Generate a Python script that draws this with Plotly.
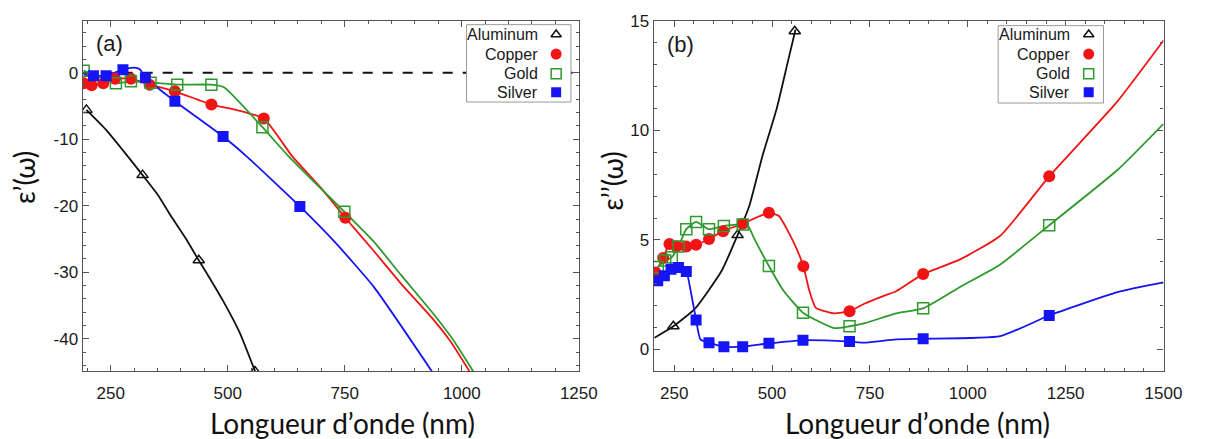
import plotly.graph_objects as go

# ---------------- Panel (a): real part  eps'(w) ----------------
al_re_wl = [198, 240, 282, 318, 350, 380, 410, 438, 465, 490, 525, 560]
al_re = [-5.6, -8.6, -12.2, -15.4, -18.3, -21.7, -24.9, -28.2, -31.3, -34.3, -39.0, -45.2]
al_re_mk_wl = [198, 318, 438, 558]
al_re_mk = [-5.6, -15.4, -28.2, -44.9]

cu_re_wl = [192, 209, 234, 259, 293, 333, 387, 465, 518, 577, 637, 700, 751, 812, 870, 938, 976, 1020]
cu_re = [-1.6, -1.9, -1.6, -0.9, -0.9, -1.8, -2.8, -4.8, -5.6, -6.9, -12.5, -17.4, -21.8, -26.8, -31.7, -37.0, -40.4, -45.3]
cu_re_mk_wl = [192, 209, 234, 259, 293, 333, 387, 465, 577, 751]
cu_re_mk = [-1.6, -1.9, -1.6, -0.9, -0.9, -1.8, -2.8, -4.8, -6.9, -21.8]

au_re_wl = [192, 261, 293, 335, 392, 465, 492, 574, 629, 749, 812, 870, 940, 980, 1028]
au_re = [0.3, -1.6, -1.3, -1.5, -1.8, -1.8, -2.2, -8.2, -12.5, -20.9, -25.4, -30.4, -36.3, -40.0, -45.3]
au_re_mk_wl = [192, 261, 293, 335, 392, 465, 574, 749]
au_re_mk = [0.3, -1.6, -1.3, -1.5, -1.8, -1.8, -8.2, -20.9]

ag_re_wl = [192, 213, 240, 276, 300, 312, 324, 387, 490, 539, 654, 728, 812, 940]
ag_re = [-0.3, -0.45, -0.45, 0.45, 0.75, 0.5, -0.75, -4.3, -9.6, -12.5, -20.1, -25.4, -32.2, -45.3]
ag_re_mk_wl = [213, 240, 276, 324, 387, 490, 654]
ag_re_mk = [-0.45, -0.45, 0.45, -0.75, -4.3, -9.6, -20.1]

# ---------------- Panel (b): imaginary part  eps''(w) ----------------
al_im_wl = [200, 248, 304, 371, 412, 442, 475, 512, 540, 560]
al_im = [0.54, 1.06, 1.88, 3.58, 5.22, 6.56, 8.8, 11.0, 13.1, 14.6]
al_im_mk_wl = [248, 412, 558]
al_im_mk = [1.06, 5.22, 14.52]

cu_im_wl = [202, 222, 238, 256, 281, 306, 339, 375, 425, 492, 517, 555, 580, 595, 612, 657, 698,
            737, 787, 817, 886, 979, 1083, 1208, 1379, 1500]
cu_im = [3.51, 4.18, 4.81, 4.70, 4.70, 4.78, 5.04, 5.40, 5.74, 6.24, 6.1, 4.9, 3.8, 2.7, 1.9, 1.65, 1.75,
         2.1, 2.46, 2.66, 3.44, 4.1, 5.19, 7.9, 11.25, 14.1]
cu_im_mk_wl = [202, 222, 238, 256, 281, 306, 339, 375, 425, 492, 580, 698, 886, 1208]
cu_im_mk = [3.51, 4.18, 4.81, 4.70, 4.70, 4.78, 5.04, 5.40, 5.74, 6.24, 3.8, 1.75, 3.44, 7.9]

au_im_wl = [208, 227, 244, 261, 281, 306, 339, 377, 425, 440, 454, 492, 529, 579, 658, 698,
            737, 817, 886, 979, 1083, 1208, 1383, 1500]
au_im = [3.76, 4.06, 4.21, 4.70, 5.49, 5.82, 5.49, 5.64, 5.70, 5.6, 5.08, 3.81, 2.69, 1.68, 0.98, 1.06,
         1.2, 1.65, 1.88, 2.84, 3.88, 5.67, 8.2, 10.3]
au_im_mk_wl = [208, 227, 244, 261, 281, 306, 339, 377, 425, 492, 579, 698, 886, 1208]
au_im_mk = [3.76, 4.06, 4.21, 4.70, 5.49, 5.82, 5.49, 5.64, 5.70, 3.81, 1.68, 1.06, 1.88, 5.67]

ag_im_wl = [200, 208, 225, 242, 261, 281, 292, 306, 317, 339, 377, 425, 492, 579, 698,
            737, 817, 886, 1083, 1208, 1383, 1500]
ag_im = [3.1, 3.14, 3.36, 3.66, 3.74, 3.56, 2.69, 1.35, 0.46, 0.31, 0.13, 0.13, 0.28, 0.42, 0.36,
         0.31, 0.46, 0.49, 0.61, 1.55, 2.62, 3.06]
ag_im_mk_wl = [208, 225, 242, 261, 281, 306, 339, 377, 425, 492, 579, 698, 886, 1208]
ag_im_mk = [3.14, 3.36, 3.66, 3.74, 3.56, 1.35, 0.31, 0.13, 0.13, 0.28, 0.42, 0.36, 0.49, 1.55]

metals = ["Aluminum", "Copper", "Gold", "Silver"]
x_ticks_a = [250, 500, 750, 1000, 1250]
y_ticks_a = [0, -10, -20, -30, -40]
x_ticks_b = [250, 500, 750, 1000, 1250, 1500]
y_ticks_b = [0, 5, 10, 15]

# ---------------- styles ----------------
COL = {"Aluminum": "#111111", "Copper": "#f01414", "Gold": "#2e9a2e", "Silver": "#1414f5"}
MK = {
    "Aluminum": dict(symbol="triangle-up-open", size=10, color=COL["Aluminum"], line=dict(width=1.5, color=COL["Aluminum"])),
    "Copper": dict(symbol="circle", size=12, color=COL["Copper"], line=dict(width=0)),
    "Gold": dict(symbol="square-open", size=11, color=COL["Gold"], line=dict(width=1.5, color=COL["Gold"])),
    "Silver": dict(symbol="square", size=11, color=COL["Silver"], line=dict(width=0)),
}

W, H = 1215, 439
fig = go.Figure()

# zero reference line (panel a)
fig.add_trace(go.Scatter(x=[190, 1250], y=[0, 0], mode="lines",
                         line=dict(color="#111111", width=2, dash="10px,10px"),
                         xaxis="x", yaxis="y", showlegend=False, hoverinfo="skip"))

panel_a = {
    "Aluminum": (al_re_wl, al_re, al_re_mk_wl, al_re_mk),
    "Copper": (cu_re_wl, cu_re, cu_re_mk_wl, cu_re_mk),
    "Gold": (au_re_wl, au_re, au_re_mk_wl, au_re_mk),
    "Silver": (ag_re_wl, ag_re, ag_re_mk_wl, ag_re_mk),
}
panel_b = {
    "Aluminum": (al_im_wl, al_im, al_im_mk_wl, al_im_mk),
    "Copper": (cu_im_wl, cu_im, cu_im_mk_wl, cu_im_mk),
    "Gold": (au_im_wl, au_im, au_im_mk_wl, au_im_mk),
    "Silver": (ag_im_wl, ag_im, ag_im_mk_wl, ag_im_mk),
}

for xa, ya, data in (("x", "y", panel_a), ("x2", "y2", panel_b)):
    for m in metals:
        wl, v, mwl, mv = data[m]
        fig.add_trace(go.Scatter(x=wl, y=v, mode="lines", line=dict(color=COL[m], width=1.8, shape="spline", smoothing=0.5),
                                 xaxis=xa, yaxis=ya, showlegend=False, hoverinfo="skip"))
    for m in metals:
        wl, v, mwl, mv = data[m]
        fig.add_trace(go.Scatter(x=mwl, y=mv, mode="markers", marker=MK[m], name=m,
                                 xaxis=xa, yaxis=ya, showlegend=False))

# ---------------- custom legends (text left of symbol), on a pixel overlay axis ----------------
legend_boxes = [(474, 580, 16, 95, 549, 565), (1014, 1121, 17, 96, 1089, 1106)]
row_y = [26, 46, 66, 85]
annotations = []
for (bx0, bx1, by0, by1, tx, mx) in legend_boxes:
    fig.add_trace(go.Scatter(x=[bx0, bx1, bx1, bx0, bx0], y=[by0, by0, by1, by1, by0], mode="lines",
                             fill="toself", fillcolor="white", line=dict(color="#9a9a9a", width=1),
                             xaxis="x3", yaxis="y3", showlegend=False, hoverinfo="skip"))
    for m, ry in zip(metals, row_y):
        mk = dict(MK[m])
        mk["size"] = mk["size"] - 1
        fig.add_trace(go.Scatter(x=[mx], y=[ry], mode="markers", marker=mk,
                                 xaxis="x3", yaxis="y3", showlegend=False, hoverinfo="skip"))
        annotations.append(dict(x=tx / W, y=1 - ry / H, xref="paper", yref="paper", text=m,
                                xanchor="right", yanchor="middle", showarrow=False,
                                font=dict(family="Liberation Sans, Arial", size=16, color="#1a1a1a")))

# panel labels
annotations.append(dict(x=111 / W, y=1 - 35 / H, xref="paper", yref="paper", text="(a)", showarrow=False,
                        xanchor="center", yanchor="middle", font=dict(family="Liberation Sans, Arial", size=22, color="#1a1a1a")))
annotations.append(dict(x=691 / W, y=1 - 36 / H, xref="paper", yref="paper", text="(b)", showarrow=False,
                        xanchor="center", yanchor="middle", font=dict(family="Liberation Sans, Arial", size=22, color="#1a1a1a")))
# axis titles
TF = dict(family="Lato, Open Sans", size=28, color="#111111")
annotations.append(dict(x=348 / W, y=1 - 423 / H, xref="paper", yref="paper", text="Longueur d’onde (nm)",
                        showarrow=False, xanchor="center", yanchor="middle", font=TF))
annotations.append(dict(x=932 / W, y=1 - 423 / H, xref="paper", yref="paper", text="Longueur d’onde (nm)",
                        showarrow=False, xanchor="center", yanchor="middle", font=TF))
annotations.append(dict(x=25 / W, y=1 - 172 / H, xref="paper", yref="paper", text="ε’(ω)", textangle=-90,
                        showarrow=False, xanchor="center", yanchor="middle", font=TF))
annotations.append(dict(x=622 / W, y=1 - 176 / H, xref="paper", yref="paper", text="ε’’(ω)", textangle=-90,
                        showarrow=False, xanchor="center", yanchor="middle", font=TF))

TICKF = dict(family="Liberation Sans, Arial", size=17, color="#1a1a1a")
common = dict(showline=True, linecolor="#555555", linewidth=1.2, mirror="allticks", ticks="inside",
              ticklen=6, tickwidth=1, tickcolor="#555555", showgrid=False, zeroline=False,
              tickfont=TICKF)

fig.update_layout(
    width=W, height=H, margin=dict(l=0, r=0, t=0, b=0),
    paper_bgcolor="white", plot_bgcolor="rgba(0,0,0,0)", showlegend=False,
    xaxis=dict(domain=[84 / W, 588 / W], range=[190, 1250], anchor="y", ticklabelstandoff=6,
               tickvals=x_ticks_a, ticktext=[str(t) for t in x_ticks_a],
               minor=dict(dtick=50, tick0=0, ticklen=3, ticks="inside", tickcolor="#555555"), **common),
    yaxis=dict(domain=[1 - 370 / H, 1 - 12 / H], range=[-44.9, 7.8], anchor="x",
               tickvals=y_ticks_a, ticktext=[str(t) for t in y_ticks_a],
               minor=dict(dtick=2, tick0=0, ticklen=3, ticks="inside", tickcolor="#555555"), **common),
    xaxis2=dict(domain=[664 / W, 1182 / W], range=[197.5, 1500], anchor="y2", ticklabelstandoff=6,
                tickvals=x_ticks_b, ticktext=[str(t) for t in x_ticks_b],
                minor=dict(dtick=50, tick0=0, ticklen=3, ticks="inside", tickcolor="#555555"), **common),
    yaxis2=dict(domain=[1 - 370 / H, 1 - 12 / H], range=[-1, 15], anchor="x2",
                tickvals=y_ticks_b, ticktext=[str(t) for t in y_ticks_b],
                minor=dict(dtick=1, tick0=0, ticklen=3, ticks="inside", tickcolor="#555555"), **common),
    xaxis3=dict(domain=[0, 1], range=[0, W], visible=False, anchor="y3", fixedrange=True),
    yaxis3=dict(domain=[0, 1], range=[H, 0], visible=False, anchor="x3", fixedrange=True),
    annotations=annotations,
)

fig.write_html("out.html", config={"displayModeBar": False},
               post_script="document.body.style.margin='0';document.body.style.overflow='hidden';")
